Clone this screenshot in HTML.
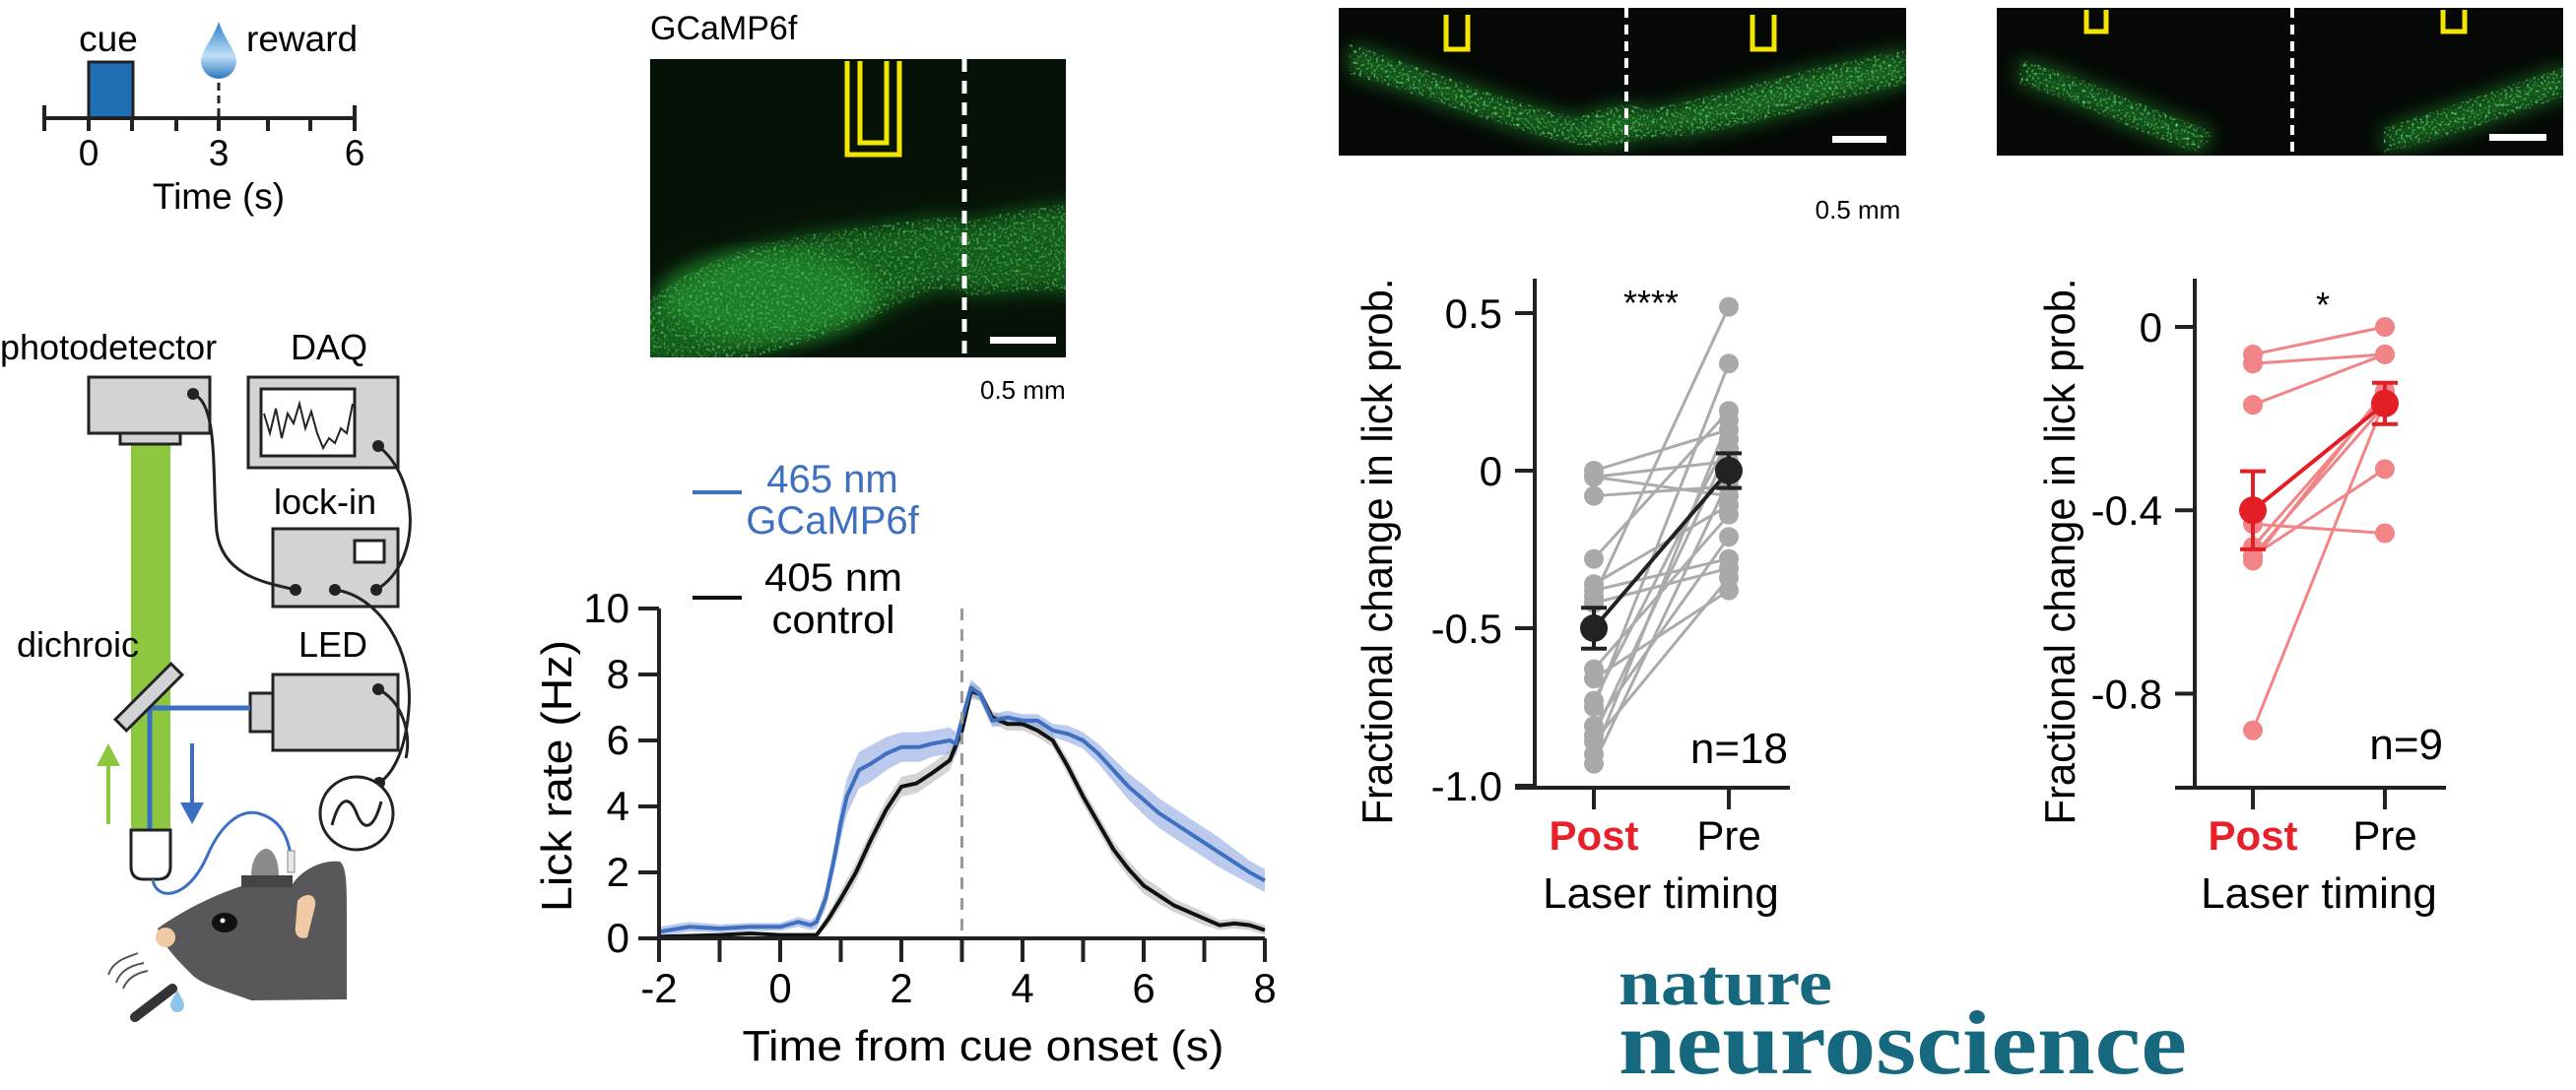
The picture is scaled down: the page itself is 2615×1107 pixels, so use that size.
<!DOCTYPE html>
<html><head><meta charset="utf-8"><style>
html,body{margin:0;padding:0;background:#fff;}
svg{display:block;font-family:"Liberation Sans",Arial,sans-serif;}
</style></head><body>
<svg id="fig" width="2615" height="1107" viewBox="0 0 2615 1107" xmlns="http://www.w3.org/2000/svg">
<defs>
  <linearGradient id="dropg" x1="0" y1="0" x2="0" y2="1"><stop offset="0" stop-color="#2f7fc8"/><stop offset="0.6" stop-color="#bfe0f6"/><stop offset="1" stop-color="#2d78c0"/></linearGradient>
  <filter id="speck" x="0" y="0" width="1" height="1">
    <feTurbulence type="fractalNoise" baseFrequency="0.35" numOctaves="2" seed="3" result="n"/>
    <feColorMatrix in="n" type="matrix" values="0 0 0 0 0.15  0 0 0 0 0.95  0 0 0 0 0.2  0 0 0 2.6 -1.35" result="g"/>
    <feComposite in="g" in2="SourceGraphic" operator="in"/>
  </filter>
  <filter id="blur6"><feGaussianBlur stdDeviation="10"/></filter>
  <clipPath id="clipC"><rect x="660" y="60" width="422" height="303"/></clipPath>
  <clipPath id="clipD"><rect x="1359" y="8" width="576" height="150"/></clipPath>
  <clipPath id="clipE"><rect x="2027" y="8" width="575" height="150"/></clipPath>
</defs>

<!-- Panel: trial timeline -->
<g>
  <rect x="90" y="63" width="45" height="57" fill="#1f6fb5" stroke="#222" stroke-width="3"/>
  <line x1="45" y1="120" x2="360" y2="120" stroke="#222" stroke-width="4"/>
  <g stroke="#222" stroke-width="4">
    <line x1="45" y1="107" x2="45" y2="133"/><line x1="360" y1="107" x2="360" y2="133"/>
    <line x1="90" y1="120" x2="90" y2="133"/><line x1="134" y1="120" x2="134" y2="133"/>
    <line x1="179" y1="120" x2="179" y2="133"/><line x1="222" y1="120" x2="222" y2="133"/>
    <line x1="272" y1="120" x2="272" y2="133"/><line x1="315" y1="120" x2="315" y2="133"/>
  </g>
  <line x1="222" y1="84" x2="222" y2="118" stroke="#222" stroke-width="3" stroke-dasharray="8,5"/>
  <path d="M222,22 C228,40 240,52 240,62 A18,18 0 0 1 204,62 C204,52 216,40 222,22 Z" fill="url(#dropg)"/>
  <text x="110" y="52" font-size="37" text-anchor="middle">cue</text>
  <text x="250" y="52" font-size="37">reward</text>
  <text x="90" y="168" font-size="37" text-anchor="middle">0</text>
  <text x="222" y="168" font-size="37" text-anchor="middle">3</text>
  <text x="360" y="168" font-size="37" text-anchor="middle">6</text>
  <text x="222" y="212" font-size="37" text-anchor="middle">Time (s)</text>
</g>

<!-- Panel: photometry schematic -->
<g>
  <rect x="133" y="451" width="40" height="395" fill="#8dc63f"/>
  <text x="0" y="365" font-size="36">photodetector</text>
  <text x="295" y="365" font-size="36">DAQ</text>
  <text x="278" y="522" font-size="36">lock-in</text>
  <text x="17" y="667" font-size="36">dichroic</text>
  <text x="303" y="667" font-size="36">LED</text>
  <rect x="90" y="383" width="123" height="57" fill="#d1d3d4" stroke="#222" stroke-width="3"/>
  <rect x="122" y="440" width="61" height="11" fill="#d1d3d4" stroke="#222" stroke-width="3"/>
  <rect x="252" y="383" width="152" height="92" fill="#d1d3d4" stroke="#222" stroke-width="3"/>
  <rect x="265" y="395" width="95" height="68" fill="#fff" stroke="#222" stroke-width="3"/>
  <polyline points="268,420 274,440 280,415 286,445 292,420 298,430 304,410 310,435 316,418 322,440 328,455 334,445 340,450 346,435 352,440 358,410" fill="none" stroke="#222" stroke-width="2"/>
  <rect x="277" y="537" width="127" height="79" fill="#d1d3d4" stroke="#222" stroke-width="3"/>
  <rect x="360" y="549" width="30" height="22" fill="#fff" stroke="#222" stroke-width="3"/>
  <rect x="277" y="685" width="127" height="77" fill="#d1d3d4" stroke="#222" stroke-width="3"/>
  <rect x="254" y="704" width="23" height="39" fill="#d1d3d4" stroke="#222" stroke-width="3"/>
  <polyline points="254,719 152,719 152,843" fill="none" stroke="#3a6fc4" stroke-width="5"/>
  <rect x="111" y="700" width="80" height="16" fill="#d1d3d4" stroke="#222" stroke-width="3" transform="rotate(-45 151 708)"/>
  <line x1="110" y1="837" x2="110" y2="770" stroke="#8dc63f" stroke-width="4"/>
  <polygon points="98,778 122,778 110,755" fill="#8dc63f"/>
  <line x1="195" y1="755" x2="195" y2="820" stroke="#3a6fc4" stroke-width="4"/>
  <polygon points="183,815 207,815 195,837" fill="#3a6fc4"/>
  <path d="M133,843 L173,843 L173,880 Q173,893 160,893 L146,893 Q133,893 133,880 Z" fill="#fff" stroke="#222" stroke-width="3"/>
  <path d="M155,893 C158,915 190,915 210,870 C225,835 245,822 262,826 C285,832 292,850 295,868" fill="none" stroke="#3a6fc4" stroke-width="3"/>
  <g fill="none" stroke="#222" stroke-width="3">
    <path d="M196,400 C222,410 215,480 220,540 C226,585 270,592 300,599"/>
    <path d="M384,453 C425,485 430,570 382,599"/>
    <path d="M340,599 C385,605 420,660 415,720 C412,760 400,785 385,795"/>
    <path d="M384,700 C408,712 418,745 412,770"/>
  </g>
  <g fill="#222"><circle cx="196" cy="400" r="6"/><circle cx="384" cy="453" r="6"/><circle cx="300" cy="599" r="6"/><circle cx="340" cy="599" r="6"/><circle cx="382" cy="599" r="6"/><circle cx="384" cy="700" r="6"/><circle cx="385" cy="795" r="6"/></g>
  <circle cx="362" cy="826" r="37" fill="#fff" stroke="#222" stroke-width="3"/>
  <path d="M337,838 C345,808 355,808 362,826 C369,844 379,844 387,814" fill="none" stroke="#222" stroke-width="3"/>
  <g>
    <path d="M160,943 C185,925 215,910 245,900 L297,898 C305,885 325,873 345,875 C352,880 352,900 352,930 L352,1015 L255,1016 C225,1005 205,1000 195,990 C180,975 165,960 160,943 Z" fill="#58585a"/>
    <rect x="245" y="889" width="52" height="12" fill="#444"/>
    <path d="M255,889 C255,870 265,862 270,862 C278,862 283,875 283,889 Z" fill="#8a8a8c"/>
    <rect x="292" y="864" width="7" height="22" fill="#e8e8e8" stroke="#888" stroke-width="1"/>
    <path d="M302,915 C310,905 322,908 320,920 L312,952 C305,955 298,950 300,940 Z" fill="#f0c9a5"/>
    <ellipse cx="228" cy="937" rx="13" ry="10" fill="#111"/>
    <circle cx="226" cy="935" r="2.5" fill="#fff"/>
    <circle cx="168" cy="952" r="10" fill="#f0c9a5"/>
    <line x1="137" y1="1033" x2="175" y2="1004" stroke="#333" stroke-width="10" stroke-linecap="round"/>
    <path d="M180,1005 C183,1012 187,1017 187,1021 A7,7 0 0 1 173,1021 C173,1017 177,1012 180,1005 Z" fill="#8cc4ea"/>
    <g fill="none" stroke="#555" stroke-width="2"><path d="M110,990 C115,975 130,972 140,968"/><path d="M118,998 C122,985 135,980 146,978"/><path d="M125,1004 C130,992 140,988 150,986"/></g>
  </g>
</g>

<!-- Panel: GCaMP6f histology -->
<g>
  <text x="660" y="40" font-size="34">GCaMP6f</text>
  <g clip-path="url(#clipC)">
    <rect x="660" y="60" width="422" height="303" fill="#060806"/>
    <path d="M640,320 C720,250 800,240 880,230 C930,225 960,215 985,225 C1020,215 1060,210 1100,205 L1100,300 C1050,290 1020,300 985,300 C960,285 930,300 890,320 C830,345 760,370 700,370 L640,370 Z" fill="#1d7a28" filter="url(#blur6)" opacity="0.8"/>
    <ellipse cx="780" cy="300" rx="110" ry="45" fill="#2aa838" filter="url(#blur6)" opacity="0.6"/>
    <path d="M640,320 C720,250 800,240 880,230 C930,225 960,215 985,225 C1020,215 1060,210 1100,205 L1100,300 C1050,290 1020,300 985,300 C960,285 930,300 890,320 C830,345 760,370 700,370 L640,370 Z" fill="#fff" filter="url(#speck)"/>
    <rect x="660" y="60" width="422" height="303" fill="#0a3a10" opacity="0.2"/>
  </g>
  <path d="M860,62 L860,157 L913,157 L913,62 M873,62 L873,145 L900,145 L900,62" fill="none" stroke="#f2e600" stroke-width="5"/>
  <line x1="979" y1="60" x2="979" y2="363" stroke="#fff" stroke-width="5" stroke-dasharray="13,9"/>
  <rect x="1005" y="342" width="67" height="7" fill="#fff"/>
  <text x="995" y="405" font-size="26">0.5 mm</text>
</g>

<!-- Panel: top-right histology images -->
<g>
  <g clip-path="url(#clipD)">
    <rect x="1359" y="8" width="576" height="150" fill="#060806"/>
    <path d="M1370,45 C1450,70 1520,100 1600,120 C1630,110 1650,100 1670,112 C1740,100 1820,70 1940,50 L1940,85 C1820,110 1750,140 1670,140 C1640,150 1620,150 1590,145 C1510,125 1440,95 1370,75 Z" fill="#1d7a28" filter="url(#blur6)" opacity="0.8"/>
    <path d="M1370,45 C1450,70 1520,100 1600,120 C1630,110 1650,100 1670,112 C1740,100 1820,70 1940,50 L1940,85 C1820,110 1750,140 1670,140 C1640,150 1620,150 1590,145 C1510,125 1440,95 1370,75 Z" fill="#fff" filter="url(#speck)"/>
  </g>
  <path d="M1468,15 L1468,50 L1490,50 L1490,15" fill="none" stroke="#f2e600" stroke-width="5"/>
  <path d="M1779,15 L1779,50 L1801,50 L1801,15" fill="none" stroke="#f2e600" stroke-width="5"/>
  <line x1="1651" y1="8" x2="1651" y2="158" stroke="#fff" stroke-width="4" stroke-dasharray="10,7"/>
  <rect x="1860" y="138" width="55" height="7" fill="#fff"/>
  <text x="1886" y="222" font-size="26" text-anchor="middle">0.5 mm</text>
</g>
<g>
  <g clip-path="url(#clipE)">
    <rect x="2027" y="8" width="575" height="150" fill="#060806"/>
    <path d="M2050,60 C2120,80 2180,110 2250,135 L2230,155 C2160,130 2100,100 2050,85 Z" fill="#1d7a28" filter="url(#blur6)" opacity="0.8"/>
    <path d="M2420,130 C2480,110 2540,90 2610,65 L2610,95 C2540,120 2470,145 2420,155 Z" fill="#1d7a28" filter="url(#blur6)" opacity="0.8"/>
    <path d="M2050,60 C2120,80 2180,110 2250,135 L2230,155 C2160,130 2100,100 2050,85 Z M2420,130 C2480,110 2540,90 2610,65 L2610,95 C2540,120 2470,145 2420,155 Z" fill="#fff" filter="url(#speck)"/>
  </g>
  <path d="M2118,10 L2118,32 L2138,32 L2138,10" fill="none" stroke="#f2e600" stroke-width="5"/>
  <path d="M2480,10 L2480,32 L2502,32 L2502,10" fill="none" stroke="#f2e600" stroke-width="5"/>
  <line x1="2327" y1="8" x2="2327" y2="158" stroke="#fff" stroke-width="4" stroke-dasharray="10,7"/>
  <rect x="2527" y="136" width="58" height="7" fill="#fff"/>
</g>

<!-- Lick rate chart -->
<g id="lick-chart">
  <g>
    <line x1="703" y1="500" x2="753" y2="500" stroke="#3f6fbf" stroke-width="4"/>
    <text x="845" y="500" font-size="40" fill="#3f6fbf" text-anchor="middle">465 nm</text>
    <text x="845" y="542" font-size="40" fill="#3f6fbf" text-anchor="middle">GCaMP6f</text>
    <line x1="703" y1="607" x2="753" y2="607" stroke="#111" stroke-width="4"/>
    <text x="846" y="600" font-size="40" text-anchor="middle" textLength="140" lengthAdjust="spacingAndGlyphs">405 nm</text>
    <text x="846" y="643" font-size="40" text-anchor="middle" textLength="125" lengthAdjust="spacingAndGlyphs">control</text>
  </g>
  <text transform="translate(580,788) rotate(-90)" font-size="44" text-anchor="middle" textLength="276" lengthAdjust="spacingAndGlyphs">Lick rate (Hz)</text>
  <text x="998" y="1077" font-size="44" text-anchor="middle" textLength="489" lengthAdjust="spacingAndGlyphs">Time from cue onset (s)</text>
</g>

<!-- Scatter A -->
<g id="scatterA">
  <text transform="translate(1413,560) rotate(-90)" font-size="44" text-anchor="middle" textLength="555" lengthAdjust="spacingAndGlyphs">Fractional change in lick prob.</text>
  <text x="1676" y="320" font-size="36" text-anchor="middle">****</text>
  <text x="1815" y="775" font-size="44" text-anchor="end">n=18</text>
  <text x="1618" y="863" font-size="42" font-weight="bold" fill="#e8202a" text-anchor="middle">Post</text>
  <text x="1755" y="863" font-size="42" text-anchor="middle">Pre</text>
  <text x="1686" y="922" font-size="44" text-anchor="middle">Laser timing</text>
</g>
<!-- Scatter B -->
<g id="scatterB">
  <text transform="translate(2106,560) rotate(-90)" font-size="44" text-anchor="middle" textLength="555" lengthAdjust="spacingAndGlyphs">Fractional change in lick prob.</text>
  <text x="2358" y="322" font-size="36" text-anchor="middle">*</text>
  <text x="2480" y="771" font-size="44" text-anchor="end">n=9</text>
  <text x="2287" y="863" font-size="42" font-weight="bold" fill="#e8202a" text-anchor="middle">Post</text>
  <text x="2421" y="863" font-size="42" text-anchor="middle">Pre</text>
  <text x="2354" y="922" font-size="44" text-anchor="middle">Laser timing</text>
</g>

<!-- Nature Neuroscience logo -->
<g fill="#16687e" font-family="'Liberation Serif',serif" font-weight="bold">
  <text x="1643" y="1020" font-size="66" textLength="217" lengthAdjust="spacingAndGlyphs">nature</text>
  <text x="1643" y="1090" font-size="92" textLength="577" lengthAdjust="spacingAndGlyphs">neuroscience</text>
</g>
</svg>

<script>
// ---- Lick rate chart data ----
const t465 = [-2,-1.5,-1,-0.5,0,0.3,0.5,0.6,0.75,0.9,1.0,1.1,1.3,1.5,1.75,2.0,2.3,2.5,2.8,2.9,3.0,3.15,3.3,3.5,3.75,4.0,4.25,4.5,4.75,5.0,5.25,5.5,5.75,6.0,6.25,6.5,6.75,7.0,7.25,7.5,7.75,8.0];
const v465 = [0.2,0.35,0.3,0.35,0.35,0.5,0.4,0.5,1.2,2.5,3.5,4.3,5.1,5.3,5.6,5.8,5.8,5.9,6.0,5.9,6.6,7.6,7.4,6.6,6.7,6.6,6.6,6.3,6.2,6.0,5.6,5.1,4.6,4.2,3.8,3.5,3.2,2.9,2.6,2.3,2.0,1.75];
const e465 = [0.15,0.15,0.12,0.12,0.12,0.15,0.15,0.2,0.3,0.4,0.5,0.55,0.55,0.55,0.5,0.45,0.45,0.4,0.4,0.35,0.3,0.25,0.2,0.2,0.2,0.2,0.2,0.2,0.25,0.25,0.3,0.35,0.4,0.45,0.45,0.45,0.45,0.45,0.45,0.4,0.35,0.35];
const t405 = [-2,-1,-0.5,0,0.5,0.6,0.8,1.0,1.25,1.5,1.75,2.0,2.25,2.5,2.8,3.0,3.15,3.3,3.5,3.75,4.0,4.25,4.5,4.75,5.0,5.25,5.5,5.75,6.0,6.25,6.5,6.75,7.0,7.25,7.5,7.75,8.0];
const v405 = [0.05,0.1,0.15,0.1,0.1,0.1,0.6,1.2,2.0,3.0,3.9,4.6,4.7,5.0,5.4,6.3,7.5,7.4,6.7,6.5,6.5,6.3,6.0,5.2,4.3,3.5,2.7,2.1,1.6,1.3,1.0,0.8,0.6,0.4,0.45,0.4,0.25];
const e405 = [0.05,0.05,0.05,0.05,0.05,0.05,0.2,0.25,0.3,0.3,0.3,0.3,0.3,0.3,0.3,0.3,0.25,0.2,0.2,0.2,0.2,0.2,0.2,0.25,0.25,0.25,0.25,0.25,0.25,0.25,0.2,0.2,0.2,0.15,0.15,0.15,0.15];
const lickXTicks = [-2,0,2,4,6,8];
const lickYTicks = [0,2,4,6,8,10];
const cueReward = [3];

// ---- Scatter A data ----
const catsA = ['Post','Pre'];
const postA = [0,-0.02,-0.02,-0.08,-0.28,-0.36,-0.38,-0.40,-0.42,-0.63,-0.66,-0.73,-0.75,-0.81,-0.84,-0.86,-0.90,-0.93];
const preA  = [0.13,-0.08,0.03,-0.05,0.19,-0.11,-0.28,0.52,-0.31,-0.14,-0.38,0.10,0.34,-0.21,0.07,-0.34,0.16,-0.03];
const meanA = [-0.5,0.0];
const semA  = [0.065,0.055];
const yTicksA = [0.5,0,-0.5,-1.0];
const yTickLabelsA = ['0.5','0','-0.5','-1.0'];

// ---- Scatter B data ----
const postB = [-0.06,-0.08,-0.17,-0.43,-0.50,-0.88,-0.48,-0.51,-0.50];
const preB  = [0.0,-0.06,-0.06,-0.45,-0.31,-0.16,-0.15,-0.14,-0.17];
const meanB = [-0.40,-0.167];
const semB  = [0.085,0.045];
const yTicksB = [0,-0.4,-0.8];
const yTickLabelsB = ['0','-0.4','-0.8'];

const NS = 'http://www.w3.org/2000/svg';
function mk(tag, attrs, parent){
  const e = document.createElementNS(NS, tag);
  for (const k in attrs) e.setAttribute(k, attrs[k]);
  parent.appendChild(e);
  return e;
}

// ---------- Lick chart ----------
(function(){
  const g = document.getElementById('lick-chart');
  const x = t => 792 + 61.5 * t;
  const y = v => 953 - 33.5 * v;
  function band(ts, vs, es, fill, name){
    let d = 'M' + ts.map((t,i)=>x(t)+','+y(vs[i]+es[i])).join(' L');
    for (let i = ts.length-1; i >= 0; i--) d += ' L' + x(ts[i]) + ',' + y(Math.max(0, vs[i]-es[i]));
    const p = mk('path', {d: d + ' Z', fill: fill}, g);
    
    
  }
  function line(ts, vs, stroke, name){
    const p = mk('polyline', {points: ts.map((t,i)=>x(t)+','+y(vs[i])).join(' '), fill:'none', stroke: stroke, 'stroke-width': 4, 'stroke-linejoin':'round'}, g);
    
    
  }
  band(t405, v405, e405, 'rgba(170,170,170,0.5)', 'control-sem-band');
  band(t465, v465, e465, 'rgba(120,150,220,0.5)', 'gcamp-sem-band');
  line(t405, v405, '#111', 'control-line');
  line(t465, v465, '#3f6fbf', 'gcamp-line');
  cueReward.forEach(t => {
    const l = mk('line', {x1:x(t), y1:y(10), x2:x(t), y2:y(0), stroke:'#999', 'stroke-width':3, 'stroke-dasharray':'12,9'}, g);
    
    
  });
  const ax = mk('g', {stroke:'#222','stroke-width':4}, g);
  
  
  mk('line', {x1:x(-2), y1:y(10), x2:x(-2), y2:y(0)}, ax);
  mk('line', {x1:x(-2)-21, y1:y(0), x2:x(8), y2:y(0)}, ax);
  for (let t = -2; t <= 8; t++) mk('line', {x1:x(t), y1:y(0), x2:x(t), y2:y(0)+24}, ax);
  lickYTicks.forEach(v => {
    mk('line', {x1:x(-2)-21, y1:y(v), x2:x(-2), y2:y(v)}, ax);
    const tx = mk('text', {x:x(-2)-30, y:y(v)+14, 'font-size':42, 'text-anchor':'end'}, g);
    
    
    tx.textContent = v;
  });
  lickXTicks.forEach(t => {
    const tx = mk('text', {x:x(t), y:1018, 'font-size':42, 'text-anchor':'middle'}, g);
    
    
    tx.textContent = t;
  });
})();

// ---------- Scatter charts ----------
function scatter(id, y, xs, axisX, axisTop, axisRight, post, pre, mean, sem, ticks, labels, lineCol, ptCol, meanCol){
  const g = document.getElementById(id);
  const ax = mk('g', {stroke:'#222','stroke-width':4}, g);
  
  
  mk('line', {x1:axisX, y1:axisTop, x2:axisX, y2:800}, ax);
  mk('line', {x1:axisX-20, y1:800, x2:axisRight, y2:800}, ax);
  xs.forEach(xx => mk('line', {x1:xx, y1:800, x2:xx, y2:822}, ax));
  ticks.forEach((v,i) => {
    mk('line', {x1:axisX-20, y1:y(v), x2:axisX, y2:y(v)}, ax);
    const tx = mk('text', {x:axisX-33, y:y(v)+15, 'font-size':42, 'text-anchor':'end'}, g);
    
    
    tx.textContent = labels[i];
  });
  post.forEach((p,i) => {
    const l = mk('line', {x1:xs[0], y1:y(p), x2:xs[1], y2:y(pre[i]), stroke:lineCol, 'stroke-width':3}, g);
    
    
  });
  post.forEach((p,i) => {
    const c1 = mk('circle', {cx:xs[0], cy:y(p), r:10, fill:ptCol}, g);
    
    
    const c2 = mk('circle', {cx:xs[1], cy:y(pre[i]), r:10, fill:ptCol}, g);
    
    
  });
  const ml = mk('line', {x1:xs[0], y1:y(mean[0]), x2:xs[1], y2:y(mean[1]), stroke:meanCol, 'stroke-width':4}, g);
  
  
  mean.forEach((m,i) => {
    const eb = mk('path', {d:`M${xs[i]-13},${y(m+sem[i])} H${xs[i]+13} M${xs[i]},${y(m+sem[i])} V${y(m-sem[i])} M${xs[i]-13},${y(m-sem[i])} H${xs[i]+13}`, stroke:meanCol, 'stroke-width':4, fill:'none'}, g);
    
    
    const c = mk('circle', {cx:xs[i], cy:y(m), r:14, fill:meanCol}, g);
    
    
  });
}
scatter('scatterA', v => 478 - 320*v, [1618,1755], 1558, 283, 1817, postA, preA, meanA, semA, yTicksA, yTickLabelsA, '#ababab', '#a9a9ab', '#222');
scatter('scatterB', v => 332 - 465.6*v, [2287,2421], 2228, 283, 2483, postB, preB, meanB, semB, yTicksB, yTickLabelsB, '#f08486', '#f08486', '#e31e24');
</script>
</body></html>
